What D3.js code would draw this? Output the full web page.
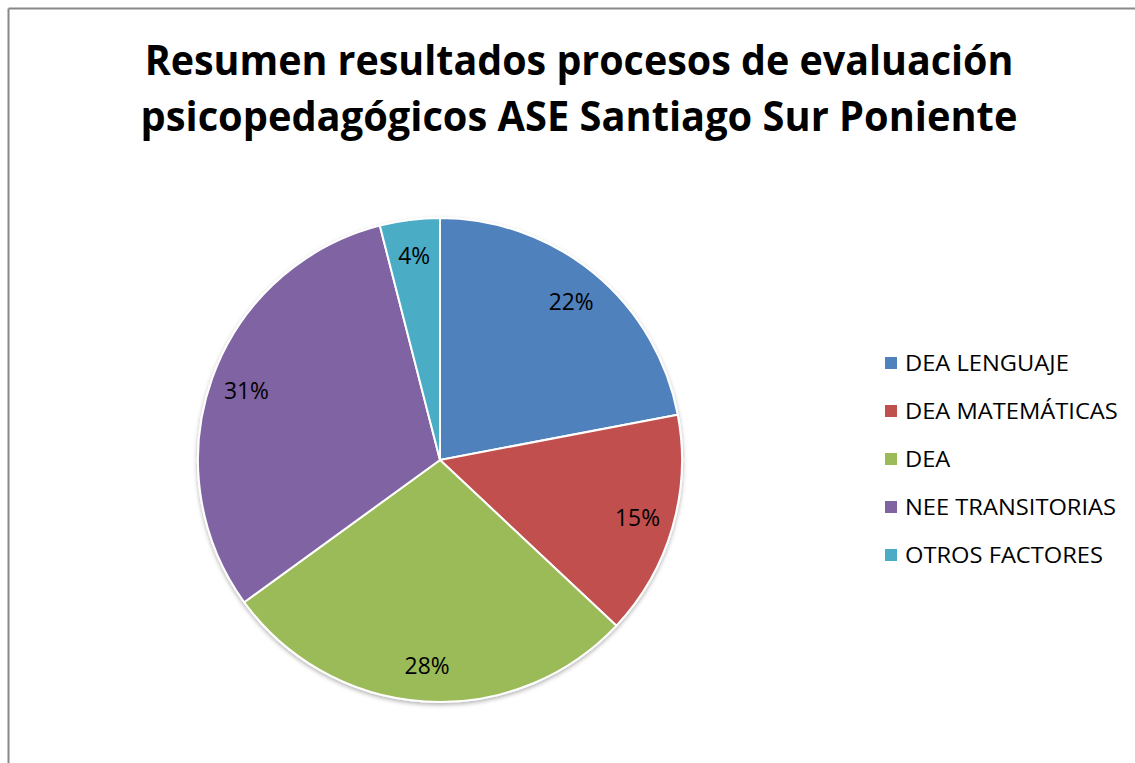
<!DOCTYPE html>
<html>
<head>
<meta charset="utf-8">
<script src="https://cdn.jsdelivr.net/npm/d3@7"></script>
<style>
  html, body { margin: 0; padding: 0; background: #fff; overflow: hidden; width: 100%; height: 100%; }
  ::-webkit-scrollbar { width: 0; height: 0; display: none; }
  svg { position: absolute; top: 0; left: 0; display: block; overflow: hidden; }
</style>
</head>
<body>
<svg id="chart" width="1135" height="763"></svg>
<script>
(function () {
    const titleLines = ["Resumen resultados procesos de evaluación", "psicopedagógicos ASE Santiago Sur Poniente"];
    const categories = ["DEA LENGUAJE", "DEA MATEMÁTICAS", "DEA", "NEE TRANSITORIAS", "OTROS FACTORES"];
    const values     = [22, 15, 28, 31, 4];
    const colors     = ["#4F81BD", "#C0504D", "#9BBB59", "#8064A2", "#4BACC6"];

    const W = 1135, H = 763;
    const cx = 440, cy = 460, R = 242;
    const font = "'Open Sans', 'Noto Sans', sans-serif";

    const svg = d3.select("#chart");

    // frame: top and left edges only
    svg.append("line").attr("x1", 8.5).attr("y1", 8.5).attr("x2", W).attr("y2", 8.5)
        .attr("stroke", "#888").attr("stroke-width", 2);
    svg.append("line").attr("x1", 8.5).attr("y1", 8.5).attr("x2", 8.5).attr("y2", H)
        .attr("stroke", "#888").attr("stroke-width", 2);

    // squeeze text horizontally so it fills the width Calibri would take
    function fitX(sel, target, anchorX) {
        const w = sel.node().getComputedTextLength();
        const k = target / w;
        sel.attr("transform", `translate(${anchorX},0) scale(${k},1) translate(${-anchorX},0)`);
        return k;
    }

    // title
    const titleW = [869, 877];
    const titleY = [75, 131];
    titleLines.forEach((t, i) => {
        const tx = svg.append("text")
            .attr("x", 579).attr("y", titleY[i])
            .attr("text-anchor", "middle")
            .attr("font-family", font).attr("font-weight", "bold")
            .attr("font-size", "42px").attr("fill", "#000")
            .text(t);
        fitX(tx, titleW[i], 579);
    });

    // drop shadow for the pie
    const defs = svg.append("defs");
    const f = defs.append("filter").attr("id", "shadow")
        .attr("x", "-10%").attr("y", "-10%").attr("width", "120%").attr("height", "120%");
    f.append("feDropShadow").attr("dx", 0).attr("dy", 2).attr("stdDeviation", 2)
        .attr("flood-color", "#000").attr("flood-opacity", 0.3);

    const data = categories.map((c, i) => ({ cat: c, value: values[i], color: colors[i] }));
    const pie = d3.pie().value(d => d.value).sort(null);
    const arc = d3.arc().innerRadius(0).outerRadius(R);
    const labelArc = d3.arc().innerRadius(R * 0.85).outerRadius(R * 0.85);
    const total = d3.sum(values);

    const g = svg.append("g").attr("transform", `translate(${cx},${cy})`);
    const arcs = pie(data);

    g.append("g").attr("filter", "url(#shadow)")
        .selectAll("path").data(arcs).join("path")
        .attr("d", arc)
        .attr("fill", d => d.data.color)
        .attr("stroke", "#fff").attr("stroke-width", 2)
        .attr("stroke-linejoin", "round");

    let pk = null;
    g.selectAll("text.pct").data(arcs).join("text")
        .attr("class", "pct")
        .attr("x", d => labelArc.centroid(d)[0])
        .attr("y", d => labelArc.centroid(d)[1])
        .attr("dy", "0.35em")
        .attr("text-anchor", "middle")
        .attr("font-family", font).attr("font-size", "24px").attr("fill", "#000")
        .text(d => Math.round(d.data.value / total * 100) + "%")
        .each(function (d) {
            if (pk === null) pk = 45 / this.getComputedTextLength();
            const ax = labelArc.centroid(d)[0];
            d3.select(this).attr("transform", `translate(${ax},0) scale(${pk},1) translate(${-ax},0)`);
        });

    // legend
    const legendY = d3.scalePoint().domain(categories).range([363, 555]);
    const items = svg.append("g").selectAll("g").data(data).join("g");
    items.append("rect")
        .attr("x", 885).attr("y", d => legendY(d.cat) - 6)
        .attr("width", 12).attr("height", 12)
        .attr("fill", d => d.color);
    const ltexts = items.append("text")
        .attr("x", 905).attr("y", d => legendY(d.cat))
        .attr("dy", "0.36em")
        .attr("font-family", font).attr("font-size", "21px").attr("fill", "#000")
        .text(d => d.cat);
    const lk = 213 / ltexts.nodes()[1].getComputedTextLength();
    ltexts.attr("transform", `translate(905,0) scale(${lk},1) translate(-905,0)`);
})();
</script>
</body>
</html>
